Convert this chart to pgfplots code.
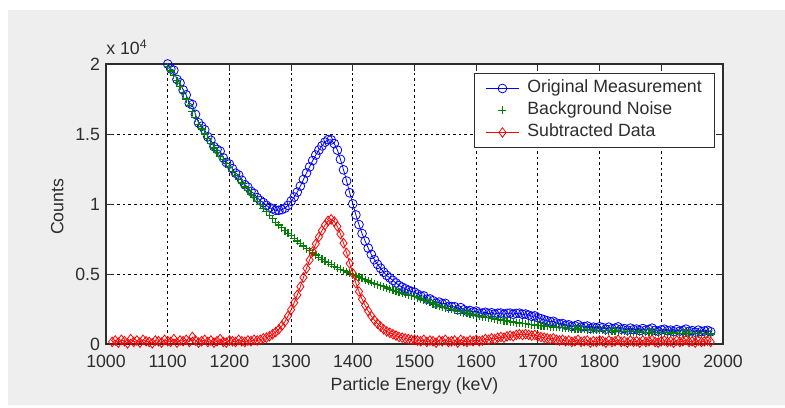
\documentclass[border=0pt]{standalone}
\usepackage{fontspec}
\setmainfont{Liberation Sans}
\usepackage{pgfplots}
\pgfplotsset{compat=1.18}
\usepackage{pgfplotstable}

\definecolor{bgray}{RGB}{238,238,238}
\definecolor{mblue}{RGB}{0,0,255}
\definecolor{mgreen}{RGB}{0,128,0}
\definecolor{mred}{RGB}{255,0,0}
\definecolor{axgray}{RGB}{45,45,45}
\newcommand\chf{\fontsize{13.3}{15}\selectfont}

\pgfplotstableread{
x b g r
1010 nan nan 150
1015 nan nan 250
1020 nan nan 100
1025 nan nan 300
1030 nan nan 200
1035 nan nan 50
1040 nan nan 350
1045 nan nan 150
1050 nan nan 250
1055 nan nan 100
1060 nan nan 300
1065 nan nan 200
1070 nan nan 150
1075 nan nan 50
1080 nan nan 250
1085 nan nan 200
1090 nan nan 100
1095 nan nan 300
1100 20000 19800 200
1105 19650 19500 150
1110 19550 19200 350
1115 18900 18800 100
1120 18650 18400 250
1125 18150 17950 200
1130 17800 17500 300
1135 17200 17050 150
1140 17100 16600 500
1145 16400 16150 250
1150 15800 15700 100
1155 15550 15350 200
1160 15300 15000 300
1165 14800 14650 150
1170 14550 14300 250
1175 14100 14000 100
1180 13900 13700 200
1185 13770 13420 350
1190 13300 13150 150
1195 12970 12870 100
1200 12850 12600 250
1205 12520 12320 200
1210 12200 12050 150
1215 12070 11770 300
1220 11700 11500 200
1225 11370 11220 150
1230 11200 10950 250
1235 10900 10700 200
1240 10750 10450 300
1245 10450 10200 250
1250 10250 9950 300
1255 10100 9700 400
1260 9900 9450 450
1265 9750 9200 550
1270 9650 8950 700
1275 9550 8700 850
1280 9550 8500 1050
1285 9600 8300 1300
1290 9700 8100 1600
1295 9900 7900 2000
1300 10200 7750 2450
1305 10500 7550 2950
1310 10850 7350 3500
1315 11280 7180 4100
1320 11750 7000 4750
1325 12220 6820 5400
1330 12650 6650 6000
1335 13100 6500 6600
1340 13500 6350 7150
1345 13850 6200 7650
1350 14150 6050 8100
1355 14420 5920 8500
1360 14600 5800 8800
1365 14580 5680 8900
1370 14310 5560 8750
1375 13850 5450 8400
1380 13190 5340 7850
1385 12440 5240 7200
1390 11640 5140 6500
1395 10800 5050 5750
1400 10010 4960 5050
1405 9220 4870 4350
1410 8530 4780 3750
1415 7890 4690 3200
1420 7350 4600 2750
1425 6850 4500 2350
1430 6400 4400 2000
1435 6020 4320 1700
1440 5690 4240 1450
1445 5410 4160 1250
1450 5130 4080 1050
1455 4900 4000 900
1460 4720 3920 800
1465 4540 3840 700
1470 4360 3760 600
1475 4180 3680 500
1480 4060 3610 450
1485 3940 3540 400
1490 3840 3490 350
1495 3750 3450 300
1500 3700 3400 300
1505 3560 3310 250
1510 3420 3220 200
1515 3435 3135 300
1520 3200 3050 150
1525 3220 2970 250
1530 3090 2890 200
1535 2915 2815 100
1540 2990 2740 250
1545 2870 2670 200
1550 2900 2600 300
1555 2685 2535 150
1560 2670 2470 200
1565 2660 2410 250
1570 2450 2350 100
1575 2595 2295 300
1580 2440 2240 200
1585 2340 2190 150
1590 2390 2140 250
1595 2290 2090 200
1600 2350 2050 300
1605 2205 2005 200
1610 2210 1960 250
1615 2265 1915 350
1620 2170 1870 300
1625 2230 1830 400
1630 2140 1790 350
1635 2200 1750 450
1640 2210 1710 500
1645 2125 1675 450
1650 2190 1640 550
1655 2205 1605 600
1660 2120 1570 550
1665 2185 1535 650
1670 2200 1500 700
1675 2120 1470 650
1680 2140 1440 700
1685 2060 1410 650
1690 1980 1380 600
1695 2005 1355 650
1700 1880 1330 550
1705 1805 1305 500
1710 1730 1280 450
1715 1660 1260 400
1720 1590 1240 350
1725 1620 1220 400
1730 1500 1200 300
1735 1430 1180 250
1740 1460 1160 300
1745 1340 1140 200
1750 1370 1120 250
1755 1255 1105 150
1760 1290 1090 200
1765 1375 1075 300
1770 1210 1060 150
1775 1245 1045 200
1780 1280 1030 250
1785 1115 1015 100
1790 1200 1000 200
1795 1140 990 150
1800 1230 980 250
1805 1170 970 200
1810 1060 960 100
1815 1200 950 250
1820 1090 940 150
1825 1130 930 200
1830 1220 920 300
1835 1060 910 150
1840 1100 900 200
1845 990 890 100
1850 1130 880 250
1855 1022 872 150
1860 1065 865 200
1865 958 858 100
1870 1100 850 250
1875 993 843 150
1880 1036 836 200
1885 1129 829 300
1890 972 822 150
1895 915 815 100
1900 1008 808 200
1905 1051 801 250
1910 945 795 150
1915 989 789 200
1920 883 783 100
1925 1027 777 250
1930 921 771 150
1935 965 765 200
1940 1060 760 300
1945 905 755 150
1950 950 750 200
1955 845 745 100
1960 990 740 250
1965 885 735 150
1970 930 730 200
1975 975 725 250
1980 870 720 150
}\data

\begin{document}
\begin{tikzpicture}
\useasboundingbox (0pt,0pt) rectangle (588.75pt,305.25pt);
\fill[white] (0pt,0pt) rectangle (588.75pt,305.25pt);
\fill[bgray] (6pt,1.5pt) rectangle (588.75pt,297.75pt);
\begin{axis}[
  at={(79.5pt,47.25pt)}, anchor=south west,
  scale only axis, width=462.75pt, height=210pt,
  clip mode=individual,
  xmin=1000, xmax=2000, ymin=0, ymax=20000,
  axis background/.style={fill=white},
  xtick={1000,1100,1200,1300,1400,1500,1600,1700,1800,1900,2000},
  xticklabels={1000,1100,1200,1300,1400,1500,1600,1700,1800,1900,2000},
  ytick={0,5000,10000,15000,20000},
  yticklabels={0,0.5,1,1.5,2},
  scaled y ticks=false,
  grid=major,
  major grid style={black, line width=0.7pt, dash pattern=on 2pt off 2.2pt},
  tick align=inside, major tick length=5pt,
  tick style={axgray, line width=0.7pt},
  axis line style={axgray, line width=0.8pt},
  tick label style={font=\chf, text=axgray},
  xticklabel style={yshift=-4.5pt},
  yticklabel style={xshift=-1pt},
  xlabel={Particle Energy (keV)},
  ylabel={Counts},
  label style={font=\chf, text=axgray},
  xlabel style={at={(axis description cs:0.5,-0.15)}, anchor=center},
  ylabel style={at={(axis description cs:-0.079,0.49)}, anchor=center},
  legend cell align=left,
  legend image code/.code={\draw[mark repeat=2,mark phase=2] plot coordinates {(0pt,0pt) (12.4pt,0pt) (24.75pt,0pt)};},
  legend style={at={(0.987,0.968)}, anchor=north east, draw=axgray, line width=0.8pt, fill=white,
    font=\chf, text=axgray, inner xsep=8pt, inner ysep=3pt,
    nodes={inner sep=1.5pt, text height=10pt, text depth=3.5pt},
    /tikz/every odd column/.append style={column sep=4.5pt}},
]
\addplot[mblue, line width=0.6pt, mark=o, mark size=3.3pt, mark options={solid, line width=0.6pt}] table[x=x, y=b] {\data};
\addlegendentry{Original Measurement}
\addplot[mgreen, only marks, mark=+, mark size=3pt, mark options={line width=0.9pt}] table[x=x, y=g] {\data};
\addlegendentry{Background Noise}
\addplot[mred, line width=0.6pt, mark=diamond, mark size=3.6pt, mark options={solid, line width=0.6pt}] table[x=x, y=r] {\data};
\addlegendentry{Subtracted Data}
\node[anchor=base west, inner sep=0pt, font=\chf, text=axgray] at ([yshift=6.75pt]rel axis cs:0,1) {x 10\textsuperscript{4}};
\end{axis}
\end{tikzpicture}
\end{document}
